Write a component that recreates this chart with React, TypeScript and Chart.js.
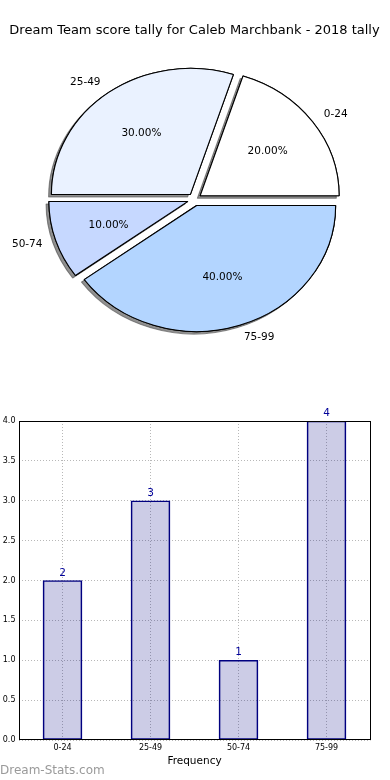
import React, { useEffect, useRef } from "react";
import { Chart, registerables } from "chart.js";

Chart.register(...registerables);

// ---- data ----
const TITLE = "Dream Team score tally for Caleb Marchbank - 2018 tally";
const categories = ["0-24", "25-49", "50-74", "75-99"];
const frequencies = [2, 3, 1, 4];
const sliceColors = ["#ffffff", "#eaf2ff", "#c6d8ff", "#b3d5ff"];
const yTickStep = 0.5;
const yMin = 0;
const yMax = 4;
const X_TITLE = "Frequency";
const WATERMARK = "Dream-Stats.com";

// ---- style constants ----
const FONT = "'DejaVu Sans', sans-serif";
const PIE_R = 126; // vertical radius in px
const PIE_SX = 139 / 126; // horizontal stretch (matplotlib non-equal aspect)
const EXPLODE = 0.05;
const LABEL_DIST = 1.1;
const PCT_DIST = 0.6;

const piePlugin = {
  id: "mplPie",
  beforeDatasetDraw(chart: any, args: any) {
    const ctx: CanvasRenderingContext2D = chart.ctx;
    const arcs = args.meta.data;
    if (!arcs.length) return false;
    const cx = arcs[0].x;
    const cy = arcs[0].y;
    const pass = (shadow: boolean) => {
      arcs.forEach((arc: any) => {
        const mid = (arc.startAngle + arc.endAngle) / 2;
        const r = arc.outerRadius;
        ctx.save();
        if (shadow) {
          ctx.shadowColor = "rgba(70,70,70,0.6)";
          ctx.shadowOffsetX = -2.8;
          ctx.shadowOffsetY = 2.5;
          ctx.shadowBlur = 0;
        }
        ctx.translate(cx, cy);
        ctx.scale(PIE_SX, 1);
        ctx.translate(-cx, -cy);
        ctx.translate(Math.cos(mid) * EXPLODE * r, Math.sin(mid) * EXPLODE * r);
        arc.draw(ctx);
        ctx.restore();
      });
    };
    pass(true);
    pass(false);
    return false;
  },
  afterDraw(chart: any) {
    const ctx: CanvasRenderingContext2D = chart.ctx;
    const meta = chart.getDatasetMeta(0);
    const values: number[] = chart.data.datasets[0].data;
    const total = values.reduce((a, b) => a + b, 0);
    ctx.save();
    ctx.fillStyle = "#000";
    ctx.font = `10.5px ${FONT}`;
    ctx.textBaseline = "middle";
    meta.data.forEach((arc: any, i: number) => {
      const mid = (arc.startAngle + arc.endAngle) / 2;
      const c = Math.cos(mid);
      const s = Math.sin(mid);
      const r = arc.outerRadius;
      const lx = arc.x + c * r * (LABEL_DIST + EXPLODE) * PIE_SX;
      const ly = arc.y + s * r * (LABEL_DIST + EXPLODE);
      ctx.textAlign = c >= 0 ? "left" : "right";
      ctx.fillText(String(chart.data.labels[i]), lx, ly);
      const px = arc.x + c * r * (PCT_DIST + EXPLODE) * PIE_SX;
      const py = arc.y + s * r * (PCT_DIST + EXPLODE);
      ctx.textAlign = "center";
      ctx.fillText(((values[i] / total) * 100).toFixed(2) + "%", px, py);
    });
    ctx.font = `13px ${FONT}`;
    ctx.textAlign = "center";
    ctx.fillText(TITLE, 194.5, 30.5);
    ctx.restore();
  },
};

const barPlugin = {
  id: "mplBar",
  afterDatasetsDraw(chart: any) {
    const ctx: CanvasRenderingContext2D = chart.ctx;
    const meta = chart.getDatasetMeta(0);
    const values: number[] = chart.data.datasets[0].data;
    const a = chart.chartArea;
    ctx.save();
    ctx.fillStyle = "#000099";
    ctx.font = `10.5px ${FONT}`;
    ctx.textAlign = "center";
    ctx.textBaseline = "alphabetic";
    meta.data.forEach((bar: any, i: number) => {
      ctx.fillText(String(values[i]), bar.x, bar.y - 5);
    });
    ctx.strokeStyle = "#000";
    ctx.lineWidth = 1;
    const l = Math.round(a.left) + 0.5;
    const t = Math.round(a.top) + 0.5;
    const r = Math.round(a.right) - 0.5;
    const b = Math.round(a.bottom) - 0.5;
    ctx.strokeRect(l, t, r - l, b - t);
    ctx.restore();
  },
  afterDraw(chart: any) {
    const ctx: CanvasRenderingContext2D = chart.ctx;
    ctx.save();
    ctx.fillStyle = "#9a9a9a";
    ctx.font = `12px ${FONT}`;
    ctx.textAlign = "left";
    ctx.textBaseline = "middle";
    ctx.fillText(WATERMARK, 0, 411);
    ctx.restore();
  },
};

export default function App() {
  const pieRef = useRef<HTMLCanvasElement>(null);
  const barRef = useRef<HTMLCanvasElement>(null);

  useEffect(() => {
    const pie = new Chart(pieRef.current as HTMLCanvasElement, {
      type: "pie",
      data: {
        labels: [...categories].reverse(),
        datasets: [
          {
            data: [...frequencies].reverse(),
            backgroundColor: [...sliceColors].reverse(),
            borderColor: "#000",
            borderWidth: 1,
            offset: 0,
            hoverOffset: 0,
            radius: PIE_R,
          } as any,
        ],
      },
      options: {
        animation: false,
        responsive: false,
        events: [],
        rotation: 90,
        layout: { padding: { top: 39, right: 1, bottom: 0, left: 0 } },
        plugins: { legend: { display: false }, tooltip: { enabled: false } },
      } as any,
      plugins: [piePlugin as any],
    });

    const gridCommon = { color: "#b8b8b8", lineWidth: 1, drawTicks: false };
    const bar = new Chart(barRef.current as HTMLCanvasElement, {
      type: "bar",
      data: {
        labels: categories,
        datasets: [
          {
            data: frequencies,
            backgroundColor: "rgba(0,0,128,0.2)",
            borderColor: "#000080",
            borderWidth: 1,
            borderSkipped: false,
            barThickness: 39,
          } as any,
        ],
      },
      options: {
        animation: false,
        responsive: false,
        events: [],
        layout: { padding: { top: 61, right: 19.5, bottom: 0, left: 0 } },
        plugins: { legend: { display: false }, tooltip: { enabled: false } },
        scales: {
          x: {
            grid: { ...gridCommon, offset: false },
            border: { display: false, dash: [1, 2] },
            ticks: { font: { family: FONT, size: 8 }, color: "#000", padding: 3 },
            title: {
              display: true,
              text: X_TITLE,
              color: "#000",
              font: { family: FONT, size: 10.5 },
              padding: { top: 0, bottom: 12 },
            },
            afterFit: (s: any) => {
              s.height = 40;
            },
          },
          y: {
            min: yMin,
            max: yMax,
            grid: gridCommon,
            border: { display: false, dash: [1, 2] },
            ticks: {
              stepSize: yTickStep,
              font: { family: FONT, size: 8 },
              color: "#000",
              padding: 3,
              callback: (v: any) => Number(v).toFixed(1),
            },
            afterFit: (s: any) => {
              s.width = 18.5;
            },
          },
        },
      } as any,
      plugins: [barPlugin as any],
    });

    return () => {
      pie.destroy();
      bar.destroy();
    };
  }, []);

  return (
    <div style={{ position: "fixed", left: 0, top: 0, width: 390, height: 780, background: "#fff" }}>
      <canvas ref={pieRef} width={390} height={360} style={{ position: "absolute", left: 0, top: 0, width: 390, height: 360 }} />
      <canvas ref={barRef} width={390} height={420} style={{ position: "absolute", left: 0, top: 360, width: 390, height: 420 }} />
    </div>
  );
}
